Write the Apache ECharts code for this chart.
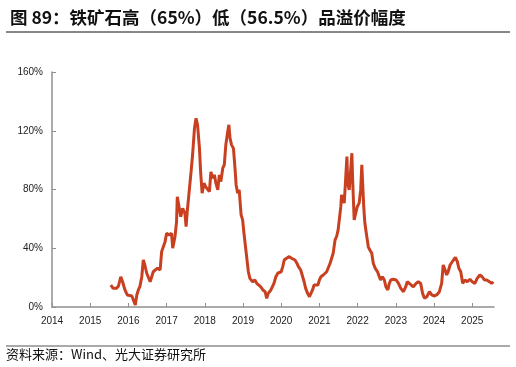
<!DOCTYPE html>
<html>
<head>
<meta charset="utf-8">
<script src="https://cdn.jsdelivr.net/npm/echarts@6/dist/echarts.min.js"></script>
<style>
html,body{margin:0;padding:0;background:#fff;}
#chart{width:516px;height:367px;}
</style>
</head>
<body>
<div id="chart"></div>
<script>
// time in decimal years
var dates = [
2015.54,2015.60,2015.69,2015.74,2015.80,2015.85,2015.91,2015.97,2016.02,2016.09,2016.13,2016.18,2016.22,2016.26,2016.30,2016.35,2016.39,2016.43,2016.48,2016.57,2016.61,2016.65,2016.70,2016.76,2016.81,
2016.83,2016.87,2016.96,2017.00,2017.07,2017.13,2017.16,2017.22,2017.26,2017.28,2017.33,2017.37,2017.42,2017.48,2017.51,2017.54,2017.59,2017.64,2017.68,2017.73,2017.77,2017.81,2017.86,2017.89,2017.93,2017.98,
2018.02,2018.07,2018.12,2018.16,2018.21,2018.25,2018.29,2018.34,2018.38,2018.42,2018.47,2018.51,2018.55,2018.60,2018.63,2018.66,2018.70,2018.75,2018.79,2018.82,2018.86,2018.90,2018.95,2018.99,
2019.03,2019.08,2019.14,2019.18,2019.20,2019.25,2019.31,2019.36,2019.40,2019.46,2019.52,2019.58,2019.62,2019.66,2019.73,2019.77,2019.81,2019.86,2019.91,2019.95,
2020.00,2020.04,2020.08,2020.14,2020.21,2020.27,2020.32,2020.36,2020.41,2020.45,2020.51,2020.55,2020.60,2020.64,2020.69,2020.74,2020.78,2020.82,2020.86,2020.91,2020.96,
2021.00,2021.04,2021.10,2021.15,2021.19,2021.23,2021.28,2021.30,2021.36,2021.41,2021.45,2021.49,2021.52,2021.56,2021.58,2021.63,2021.65,2021.69,2021.72,2021.74,2021.78,2021.80,2021.85,2021.87,2021.91,2021.96,2021.99,
2022.04,2022.08,2022.11,2022.13,2022.16,2022.19,2022.24,2022.28,2022.32,2022.37,2022.41,2022.46,2022.52,2022.57,2022.60,2022.65,2022.70,2022.74,2022.79,2022.83,2022.87,2022.93,
2023.01,2023.07,2023.13,2023.20,2023.26,2023.30,2023.35,2023.40,2023.46,2023.53,2023.59,2023.65,2023.70,2023.75,2023.81,2023.88,2023.94,
2024.00,2024.07,2024.14,2024.20,2024.24,2024.29,2024.33,2024.37,2024.42,2024.46,2024.51,2024.56,2024.61,2024.65,2024.70,2024.75,2024.81,2024.87,2024.94,
2025.00,2025.07,2025.13,2025.20,2025.26,2025.32,2025.38,2025.45,2025.51,2025.55
];
// premium, %
var premium = [
15.0,12.7,12.7,14.3,20.6,17.0,11.6,8.2,7.0,7.5,4.8,1.4,8.2,11.6,13.8,20.6,32.0,28.6,23.0,17.2,20.6,24.0,23.0,26.4,25.2,
25.2,37.7,44.5,50.2,49.0,50.2,40.0,48.0,58.0,75.0,74.0,61.5,67.2,63.8,54.7,65.0,66.0,92.0,103.5,121.8,128.5,124.0,108.0,92.0,77.5,84.3,
82.0,83.1,78.6,92.0,87.7,90.0,84.3,79.7,90.0,85.4,94.5,96.8,110.4,119.5,124.0,115.0,110.4,108.0,94.5,83.1,77.5,79.7,62.7,59.3,
49.0,37.7,24.0,19.5,19.5,17.2,18.4,16.1,17.2,13.8,11.6,10.4,5.9,9.3,11.6,11.6,16.1,20.6,23.0,24.0,
24.0,27.5,32.0,33.2,34.3,33.2,32.0,32.0,29.8,27.5,25.2,24.0,17.2,12.7,9.3,7.0,8.2,11.6,15.0,13.8,15.0,
18.4,20.6,21.8,21.0,24.0,25.2,29.8,29.8,36.6,45.7,48.0,52.5,59.3,68.3,76.3,77.5,70.7,88.8,102.4,84.3,79.7,86.5,104.7,86.5,59.3,59.3,68.3,
70.7,79.7,96.8,96.8,68.3,57.0,48.0,41.0,38.8,36.6,29.8,26.4,24.0,23.0,18.4,20.6,18.4,13.8,11.6,16.1,18.4,18.9,
18.4,16.1,12.7,10.4,13.8,17.2,18.4,15.0,13.8,16.1,17.2,16.1,9.3,5.9,7.0,10.4,8.2,
7.5,8.2,10.4,16.1,28.6,25.2,21.8,24.0,28.6,29.8,32.0,33.8,30.9,26.4,24.0,16.1,18.4,17.2,18.9,
17.2,16.1,19.5,21.8,20.6,18.4,18.4,17.2,16.1,17.2
];
var yearTicks = [2014,2015,2016,2017,2018,2019,2020,2021,2022,2023,2024,2025];
var titleText = '图 89：铁矿石高（65%）低（56.5%）品溢价幅度';
var sourceText = '资料来源：Wind、光大证券研究所';

var seriesData = dates.map(function (d, i) { return [d, premium[i]]; });
var chart = echarts.init(document.getElementById('chart'), null, {renderer: 'canvas'});
var axisColor = '#8f8f8f';
chart.setOption({
  animation: false,
  backgroundColor: '#fff',
  title: {
    text: titleText,
    left: 5, top: 4,
    textStyle: {fontFamily: 'Noto Sans CJK SC', fontSize: 17.5, fontWeight: 'bold', color: '#111'}
  },
  graphic: [
    {type: 'line', shape: {x1: 6, y1: 32, x2: 510, y2: 32}, style: {stroke: '#111', lineWidth: 1}},
    {type: 'line', shape: {x1: 6, y1: 346, x2: 510, y2: 346}, style: {stroke: '#555', lineWidth: 1}},
    {type: 'text', left: 6, top: 348, style: {text: sourceText, font: '13px "Noto Sans CJK SC"', fill: '#111'}}
  ],
  grid: {left: 52, right: 22, top: 72, bottom: 60, containLabel: false},
  xAxis: {
    type: 'value',
    min: 2014, max: 2025.57,
    interval: 1,
    splitLine: {show: false},
    axisLine: {show: true, lineStyle: {color: axisColor, width: 1.5}},
    axisTick: {show: true, inside: true, length: 4, customValues: yearTicks, lineStyle: {color: axisColor}},
    axisLabel: {customValues: yearTicks, margin: 9, color: '#222', fontSize: 10, fontFamily: 'Liberation Sans',
      formatter: function (v) { return String(Math.round(v)); }}
  },
  yAxis: {
    type: 'value',
    min: 0, max: 160, interval: 40,
    splitLine: {show: false},
    axisLine: {show: true, lineStyle: {color: axisColor, width: 1.5}},
    axisTick: {show: true, inside: true, length: 4, lineStyle: {color: axisColor}},
    axisLabel: {margin: 9, color: '#222', fontSize: 10, fontFamily: 'Liberation Sans', formatter: '{value}%'}
  },
  series: [{
    type: 'line',
    data: seriesData,
    showSymbol: false,
    smooth: false,
    lineStyle: {color: '#C8401F', width: 3},
    z: 3
  }]
});
</script>
</body>
</html>
